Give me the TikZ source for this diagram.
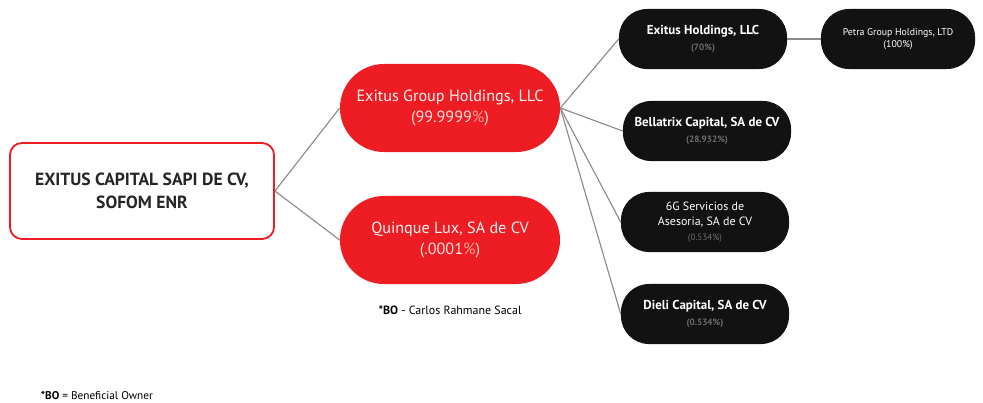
\documentclass[tikz,border=0pt]{standalone}
\usepackage{fontspec}
\setmainfont{PT Sans}
\usetikzlibrary{positioning}
\definecolor{exred}{HTML}{EE1D23}
\definecolor{exblack}{HTML}{121212}
\definecolor{exgrey}{HTML}{8A8A8A}
\definecolor{expct}{HTML}{F3A08F}
\definecolor{exsub}{HTML}{6E6E6E}

\tikzset{
  holding/.style={draw=exred, line width=1.3pt, fill=white, rounded corners=0.3cm,
    minimum width=6.6cm, minimum height=2.4cm, align=center, text=black!85,
    font=\bfseries\fontsize{12.5}{16}\selectfont},
  owner/.style={fill=exred, rounded corners=1.1cm, minimum width=5.5cm,
    minimum height=2.2cm, align=center, text=white!95!red,
    font=\fontsize{11.5}{15}\selectfont},
  firm/.style={fill=exblack, rounded corners=0.7cm, minimum width=4.2cm,
    minimum height=1.5cm, align=center, text=white,
    font=\bfseries\fontsize{9.2}{11}\selectfont},
  link/.style={draw=exgrey, line width=0.8pt}
}
\newcommand{\pct}[1]{{\color{exsub}\fontsize{6.5}{8}\selectfont #1}}

\begin{document}
\begin{tikzpicture}[x=0.025cm,y=-0.025cm]
  \useasboundingbox (0,0) rectangle (983,402);

  % left side
  \node[holding] (capital) at (142,191) {EXITUS CAPITAL SAPI DE CV,\\SOFOM ENR};
  \node[owner]   (group)   at (450,108) {Exitus Group Holdings, LLC\\{\color{white!85!exred}(99.9999{\color{expct}\%})}};
  \node[owner]   (quinque) at (450,240) {Quinque Lux, SA de CV\\{\color{white!85!exred}(.0001{\color{expct}\%})}};
  \node[font=\fontsize{8.5}{10}\selectfont] (bo) [below=0.4cm of quinque] {\textbf{*BO} - Carlos Rahmane Sacal};

  % right side
  \node[firm] (holdings)  at (703,39)  {Exitus Holdings, LLC\\\pct{(70\%)}};
  \node[firm, minimum width=3.85cm, font=\fontsize{7}{9}\selectfont] (petra) at (898,39) {Petra Group Holdings, LTD\\(100\%)};
  \node[firm] (bellatrix) at (707,131) {Bellatrix Capital, SA de CV\\\pct{(28.932\%)}};
  \node[firm, font=\fontsize{8.5}{10.5}\selectfont] (servicios) at (705,222) {6G Servicios de\\Asesoria, SA de CV\\\pct{(0.534\%)}};
  \node[firm] (dieli)     at (705,314) {Dieli Capital, SA de CV\\\pct{(0.534\%)}};

  \node[font=\fontsize{8}{10}\selectfont, anchor=west] (legend) at (36,395) {\textbf{*BO} = Beneficial Owner};

  \path[link] (capital.east) edge (group.west)
                             edge (quinque.west)
        (group.east) edge (holdings.west)
                     edge (bellatrix.west)
                     edge (servicios.west)
                     edge (dieli.west)
        (holdings) edge (petra);
\end{tikzpicture}
\end{document}
